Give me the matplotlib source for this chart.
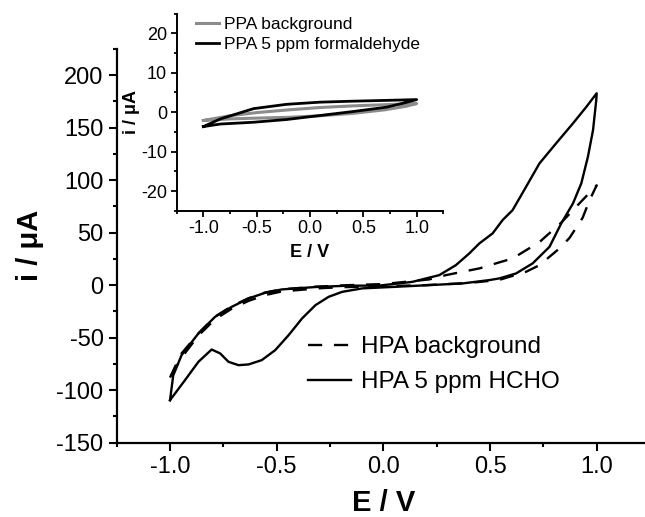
import matplotlib
matplotlib.use("Agg")
import matplotlib.pyplot as plt
from matplotlib.ticker import MultipleLocator
import numpy as np

plt.rcParams['font.family'] = ['Liberation Sans', 'DejaVu Sans']

# ---- main chart data (E in V, i in uA) ----
hcho_anodic_E = [-1.0, -0.985, -0.946, -0.867, -0.789, -0.711, -0.632, -0.554, -0.476, -0.318, -0.162,
                 -0.021, 0.136, 0.262, 0.340, 0.403, 0.45, 0.512, 0.559, 0.606, 0.669, 0.732, 0.810,
                 0.889, 0.952, 1.0]
hcho_anodic_i = [-109.5, -86, -66.7, -46, -30.2, -20.7, -12.7, -7.3, -4.1, -1.8, -0.5,
                 -0.5, 3.1, 9.5, 19, 30.2, 39.7, 49.2, 61.9, 71.4, 93.6, 115.9, 135,
                 154, 169.8, 182.6]
hcho_cathodic_E = [1.0, 0.998, 0.983, 0.959, 0.928, 0.889, 0.834, 0.779, 0.700, 0.622, 0.544, 0.497,
                   0.371, 0.214, 0.058, -0.099, -0.193, -0.256, -0.318, -0.381, -0.444, -0.507,
                   -0.570, -0.632, -0.679, -0.726, -0.765, -0.805, -0.867, -0.930, -1.0]
hcho_cathodic_i = [182.6, 176, 147.6, 122.2, 96.9, 77.8, 58.8, 36.5, 20.7, 11.1, 6.4, 4.8,
                   1.6, 0, -1.6, -3.1, -6.4, -11.1, -19, -31.7, -47.6, -61.9,
                   -71.4, -75.5, -76.2, -73, -65, -61.3, -73, -90.5, -109.5]

bg_anodic_E = [-1.0, -0.95, -0.867, -0.789, -0.711, -0.632, -0.554, -0.476, -0.318, -0.162, 0.0,
               0.136, 0.214, 0.293, 0.371, 0.45, 0.528, 0.606, 0.732, 0.834, 0.92, 1.0]
bg_anodic_i = [-88, -66, -46, -30, -20, -12.5, -7, -4, -1.5, 0, 1,
               3.8, 5.4, 9.5, 12.7, 15.9, 20.7, 25.4, 41, 59.5, 78, 95]
bg_cathodic_E = [1.0, 0.967, 0.934, 0.873, 0.826, 0.732, 0.669, 0.544, 0.4, 0.2, 0.0, -0.2,
                 -0.3, -0.476, -0.554, -0.632, -0.711, -0.789, -0.867, -0.946, -1.0]
bg_cathodic_i = [95, 81, 64, 45, 35, 19, 12.7, 5, 2, 0, -1, -2,
                 -3, -6, -9.5, -15, -22.5, -32.5, -48, -69, -88]

# ---- inset data ----
ppa_bg_upper_E = [-1.0, -0.75, -0.5, -0.2, 0.1, 0.4, 0.7, 1.0]
ppa_bg_upper_i = [-2.1, -0.9, -0.1, 0.6, 1.2, 1.6, 1.9, 2.2]
ppa_bg_lower_E = [1.0, 0.9, 0.7, 0.4, 0.1, -0.2, -0.5, -0.75, -1.0]
ppa_bg_lower_i = [2.2, 1.5, 0.6, -0.3, -0.9, -1.3, -1.5, -1.7, -2.1]

ppa_f_upper_E = [-1.0, -0.84, -0.53, -0.22, 0.094, 0.406, 0.72, 1.0]
ppa_f_upper_i = [-3.65, -1.7, 0.9, 2.0, 2.55, 2.8, 3.0, 3.2]
ppa_f_lower_E = [1.0, 0.875, 0.72, 0.406, 0.094, -0.22, -0.53, -0.84, -1.0]
ppa_f_lower_i = [3.2, 2.3, 1.28, 0.18, -0.84, -1.86, -2.55, -3.0, -3.65]

main_labels = ["HPA background", "HPA 5 ppm HCHO"]
inset_labels = ["PPA background", "PPA 5 ppm formaldehyde"]

W, H = 645, 517
fig = plt.figure(figsize=(W / 100, H / 100), dpi=100)

# main axes
ml, mr, mb, mt = 116.7, 650.0, 442.7, 48.75
ax = fig.add_axes([ml / W, 1 - mb / H, (mr - ml) / W, (mb - mt) / H])
ax.plot(bg_anodic_E + bg_cathodic_E, bg_anodic_i + bg_cathodic_i, color='black', lw=1.7,
        dashes=(6, 5), label=main_labels[0])
ax.plot(hcho_anodic_E + hcho_cathodic_E, hcho_anodic_i + hcho_cathodic_i, color='black', lw=1.7,
        label=main_labels[1])
ax.set_xlim(-1.25, 1.25)
ax.set_ylim(-150, 225)
ax.xaxis.set_minor_locator(MultipleLocator(0.25))
ax.yaxis.set_minor_locator(MultipleLocator(25))
ax.set_xticks([-1.0, -0.5, 0.0, 0.5, 1.0])
ax.set_yticks([-150, -100, -50, 0, 50, 100, 150, 200])
ax.set_xticklabels(['-1.0', '-0.5', '0.0', '0.5', '1.0'])
ax.set_yticklabels(['-150', '-100', '-50', '0', '50', '100', '150', '200'])
for s in ['top', 'right']:
    ax.spines[s].set_visible(False)
for s in ['left', 'bottom']:
    ax.spines[s].set_linewidth(1.6)
ax.tick_params(which='major', direction='out', length=5.5, width=1.5, labelsize=17, pad=4)
ax.tick_params(which='minor', direction='out', length=3, width=1.5)
ax.set_xlabel('E / V', fontsize=21, fontweight='bold', labelpad=8)
ax.set_ylabel('i / \u03bcA', fontsize=21, fontweight='bold', labelpad=9)
leg = ax.legend(loc='upper left', bbox_to_anchor=(308 / W, 1 - 336 / H),
                bbox_transform=fig.transFigure, frameon=False, fontsize=17.5,
                handlelength=1.75, handletextpad=0.45, labelspacing=0.55,
                borderpad=0, borderaxespad=0)

# inset axes
il, ir, ib, it = 176.7, 443.3, 210.7, 13.7
ax2 = fig.add_axes([il / W, 1 - ib / H, (ir - il) / W, (ib - it) / H])
ax2.plot(ppa_bg_upper_E + ppa_bg_lower_E, ppa_bg_upper_i + ppa_bg_lower_i, color='#8c8c8c', lw=2.2,
         label=inset_labels[0])
ax2.plot(ppa_f_upper_E + ppa_f_lower_E, ppa_f_upper_i + ppa_f_lower_i, color='black', lw=2.0,
         label=inset_labels[1])
ax2.set_xlim(-1.25, 1.25)
ax2.set_ylim(-25, 25)
ax2.set_xticks([-1.0, -0.5, 0.0, 0.5, 1.0])
ax2.set_xticklabels(['-1.0', '-0.5', '0.0', '0.5', '1.0'])
ax2.set_yticks([-20, -10, 0, 10, 20])
ax2.set_yticklabels(['-20', '-10', '0', '10', '20'])
ax2.xaxis.set_minor_locator(MultipleLocator(0.25))
ax2.yaxis.set_minor_locator(MultipleLocator(5))
for s in ['top', 'right']:
    ax2.spines[s].set_visible(False)
for s in ['left', 'bottom']:
    ax2.spines[s].set_linewidth(1.4)
ax2.tick_params(which='major', direction='out', length=4, width=1.3, labelsize=13, pad=3)
ax2.tick_params(which='minor', direction='out', length=2.5, width=1.3)
ax2.set_xlabel('E / V', fontsize=13, fontweight='bold', labelpad=5)
ax2.set_ylabel('i / \u03bcA', fontsize=13, fontweight='bold', labelpad=1)
ax2.legend(loc='upper left', bbox_to_anchor=(196 / W, 1 - 17 / H), bbox_transform=fig.transFigure,
           frameon=False, fontsize=12.5, handlelength=1.3, handletextpad=0.3, labelspacing=0.25,
           borderpad=0, borderaxespad=0)
ax2.patch.set_alpha(0)

fig.savefig('out.png', dpi=100)
